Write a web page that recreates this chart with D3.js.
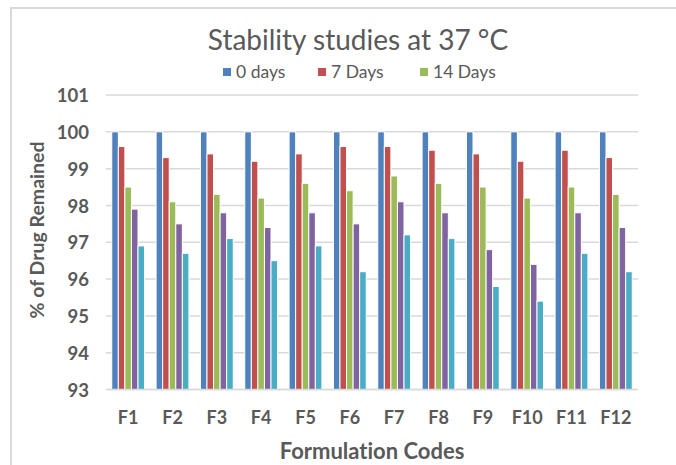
<!DOCTYPE html>
<html>
<head>
<meta charset="utf-8">
<script src="https://cdn.jsdelivr.net/npm/d3@7"></script>
<style>
  html, body { margin: 0; padding: 0; background: #fff; }
  svg { display: block; }
  text { font-family: Lato, "Open Sans", sans-serif; fill: #595959; font-variant-ligatures: none; }
</style>
</head>
<body>
<svg id="chart" width="676" height="465"></svg>
<script>
// Formulation codes along the x axis
const categories = ["F1","F2","F3","F4","F5","F6","F7","F8","F9","F10","F11","F12"];

// % of drug remaining at each time point
const days0  = [100,100,100,100,100,100,100,100,100,100,100,100];
const days7  = [99.6,99.3,99.4,99.2,99.4,99.6,99.6,99.5,99.4,99.2,99.5,99.3];
const days14 = [98.5,98.1,98.3,98.2,98.6,98.4,98.8,98.6,98.5,98.2,98.5,98.3];
const days21 = [97.9,97.5,97.8,97.4,97.8,97.5,98.1,97.8,96.8,96.4,97.8,97.4];
const days28 = [96.9,96.7,97.1,96.5,96.9,96.2,97.2,97.1,95.8,95.4,96.7,96.2];

const seriesNames = ["0 days","7 Days","14 Days","21 Days","28 Days"];
const seriesValues = [days0, days7, days14, days21, days28];
const colors = ["#4F81BD","#C0504D","#9BBB59","#8064A2","#4BACC6"];
const legendCount = 3;   // only the first three series are listed in the legend

const yTicks = [93,94,95,96,97,98,99,100,101];

const svg = d3.select("#chart");

// outer chart frame
svg.append("rect")
  .attr("x", 11).attr("y", 8)
  .attr("width", 700).attr("height", 500)
  .attr("fill", "none")
  .attr("stroke", "#d9d9d9")
  .attr("stroke-width", 2);

const plot = { left: 106, right: 638, top: 95, bottom: 389.5 };

const x = d3.scaleBand()
  .domain(categories)
  .range([plot.left, plot.right])
  .paddingInner(0.26)
  .paddingOuter(0.13);

const xInner = d3.scaleBand()
  .domain(d3.range(seriesNames.length))
  .range([0, x.bandwidth()])
  .padding(0);

const y = d3.scaleLinear()
  .domain([93, 101])
  .range([plot.bottom, plot.top]);

// horizontal gridlines
svg.append("g")
  .selectAll("line")
  .data(yTicks)
  .join("line")
  .attr("x1", plot.left).attr("x2", plot.right)
  .attr("y1", d => y(d)).attr("y2", d => y(d))
  .attr("stroke", "#d9d9d9")
  .attr("stroke-width", 1.5);

// y axis tick labels
const yAxis = d3.axisLeft(y).tickValues(yTicks).tickSize(0).tickPadding(0);
const gy = svg.append("g")
  .attr("transform", `translate(89,0)`)
  .call(yAxis);
gy.select(".domain").remove();
gy.selectAll("text")
  .attr("font-size", 18.5)
  .attr("font-weight", "bold")
  .attr("fill", "#595959")
  .attr("dy", "0.36em")
  .style("font-family", "Lato, 'Open Sans', sans-serif");

// bars
const data = categories.map((c, i) => ({
  cat: c,
  values: seriesValues.map((s, k) => ({ k, v: s[i] }))
}));

svg.append("g")
  .selectAll("g")
  .data(data)
  .join("g")
  .attr("transform", d => `translate(${x(d.cat)},0)`)
  .selectAll("rect")
  .data(d => d.values)
  .join("rect")
  .attr("x", d => xInner(d.k))
  .attr("width", xInner.bandwidth())
  .attr("y", d => y(d.v))
  .attr("height", d => y(93) - y(d.v))
  .attr("fill", d => colors[d.k])
  .attr("stroke", "#ffffff")
  .attr("stroke-width", 1);

// x axis baseline
svg.append("line")
  .attr("x1", plot.left).attr("x2", plot.right)
  .attr("y1", y(93)).attr("y2", y(93))
  .attr("stroke", "#d9d9d9")
  .attr("stroke-width", 1.5);

// x axis category labels
const xAxis = d3.axisBottom(x).tickSize(0).tickPadding(0);
const gx = svg.append("g")
  .attr("transform", `translate(0,424)`)
  .call(xAxis);
gx.select(".domain").remove();
gx.selectAll("text")
  .attr("dy", 0)
  .attr("font-size", 18)
  .attr("font-weight", "bold")
  .attr("fill", "#595959")
  .style("font-family", "Lato, 'Open Sans', sans-serif");

// title
svg.append("text")
  .attr("x", 358).attr("y", 50)
  .attr("text-anchor", "middle")
  .attr("font-size", 28)
  .text("Stability studies at 37 °C");

// legend
const legendX = [223, 318, 420];
const legend = svg.append("g")
  .selectAll("g")
  .data(seriesNames.slice(0, legendCount))
  .join("g")
  .attr("transform", (d, i) => `translate(${legendX[i]},72)`);
legend.append("rect")
  .attr("x", 0).attr("y", -4)
  .attr("width", 8).attr("height", 8)
  .attr("fill", (d, i) => colors[i]);
legend.append("text")
  .attr("x", 13).attr("y", 0)
  .attr("dy", "0.36em")
  .attr("font-size", 17.5)
  .text(d => d);

// axis titles
svg.append("text")
  .attr("transform", "translate(44,230) rotate(-90)")
  .attr("text-anchor", "middle")
  .attr("font-size", 19.5)
  .attr("font-weight", "bold")
  .text("% of Drug Remained");

svg.append("text")
  .attr("x", 372).attr("y", 459)
  .attr("text-anchor", "middle")
  .attr("font-size", 22)
  .attr("font-weight", "bold")
  .text("Formulation Codes");
</script>
</body>
</html>
